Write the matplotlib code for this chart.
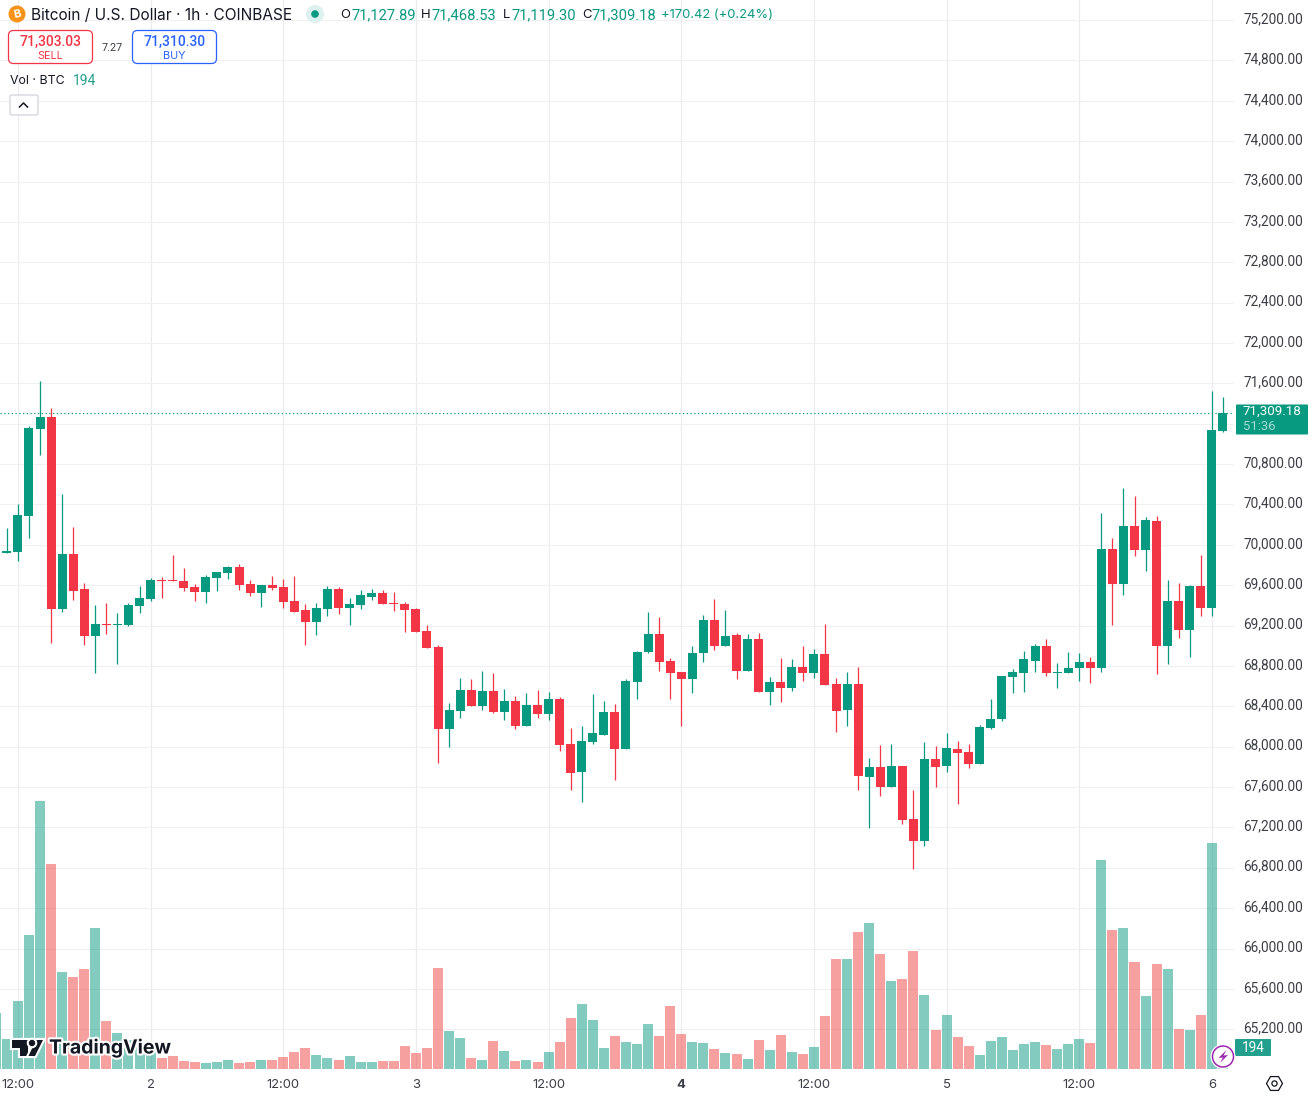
import matplotlib
matplotlib.use("Agg")
import matplotlib.pyplot as plt
import matplotlib.patheffects as pe
from matplotlib.colors import to_rgba
from matplotlib.patches import Circle, FancyBboxPatch, Polygon, RegularPolygon
from matplotlib.transforms import ScaledTranslation

GREEN = "#089981"
RED = "#F23645"
BLUE = "#2962FF"
DARK = "#131722"
GRID = "#F0F0F2"
NUM_FONT = ["Roboto", "DejaVu Sans"]

# hourly candles, first one is the hour before the 12:00 tick
opens = [69919, 69929, 70285, 71147, 71266, 69364, 69909, 69562, 69096, 69215, 69205, 69205, 69393, 69463, 69651,
         69651, 69641, 69582, 69532, 69671, 69721, 69780, 69611, 69522, 69602, 69582, 69443, 69354, 69235, 69364,
         69562, 69374, 69403, 69483, 69522, 69423, 69413, 69364, 69146, 68987, 68175, 68353, 68561, 68403, 68551,
         68343, 68452, 68204, 68412, 68323, 68472, 68026, 67749, 68046, 68115, 68343, 67976, 68640, 68938, 69116,
         68848, 68739, 68670, 68928, 69255, 68997, 69106, 68749, 69066, 68541, 68640, 68581, 68789, 68730, 68918,
         68621, 68363, 68621, 67699, 67798, 67600, 67808, 67283, 67065, 67877, 67808, 67976, 67947, 67828, 68185,
         68274, 68690, 68730, 68848, 68997, 68730, 68730, 68779, 68839, 68779, 69958, 69611, 70186, 69948, 70236,
         68997, 69443, 69156, 69592, 69374, 71127.89]
highs = [70166, 70404, 71177, 71623, 71355, 70503, 70176, 69621, 69403, 69423, 69324, 69423, 69592, 69671, 69681,
         69899, 69770, 69611, 69701, 69730, 69790, 69810, 69651, 69602, 69691, 69661, 69691, 69413, 69423, 69592,
         69582, 69473, 69552, 69562, 69552, 69532, 69433, 69374, 69205, 69007, 68432, 68680, 68670, 68749, 68730,
         68571, 68502, 68531, 68561, 68541, 68492, 68185, 68204, 68521, 68452, 68422, 68670, 68948, 69334, 69284,
         68878, 68739, 68997, 69304, 69463, 69354, 69126, 69116, 69126, 68690, 68878, 68868, 68997, 68967, 69215,
         68680, 68739, 68789, 67887, 68016, 68026, 67808, 67570, 68046, 68006, 68135, 68056, 68026, 68214, 68472,
         68700, 68769, 68948, 69017, 69066, 68829, 68938, 68928, 68888, 70315, 70067, 70563, 70483, 70275, 70285,
         69651, 69621, 69602, 69899, 71524, 71468.53]
lows = [69919, 69839, 70067, 70890, 69027, 69334, 69453, 69007, 68730, 69116, 68819, 69195, 69324, 69443, 69473,
        69641, 69542, 69443, 69423, 69542, 69661, 69552, 69493, 69384, 69552, 69374, 69334, 69007, 69106, 69294,
        69314, 69205, 69364, 69453, 69413, 69344, 69136, 69136, 68977, 67838, 67996, 68284, 68403, 68363, 68333,
        68264, 68175, 68204, 68284, 68264, 67957, 67570, 67451, 68026, 68115, 67669, 67976, 68472, 68928, 68749,
        68472, 68204, 68531, 68839, 68957, 68997, 68670, 68749, 68541, 68412, 68442, 68551, 68650, 68680, 68611,
        68145, 68204, 67570, 67194, 67511, 67600, 67233, 66787, 67015, 67600, 67749, 67431, 67788, 67828, 68175,
        68254, 68531, 68541, 68740, 68700, 68581, 68730, 68650, 68630, 68740, 69205, 69502, 69889, 69740, 68720,
        68819, 69076, 68888, 69294, 69294, 71119.30]
closes = [69938, 70295, 71157, 71266, 69364, 69909, 69542, 69096, 69215, 69205, 69215, 69403, 69473, 69651, 69641,
          69641, 69572, 69532, 69681, 69730, 69780, 69602, 69522, 69602, 69572, 69433, 69334, 69235, 69374, 69562,
          69374, 69413, 69502, 69522, 69413, 69413, 69354, 69136, 68977, 68175, 68363, 68561, 68403, 68551, 68343,
          68452, 68204, 68412, 68323, 68472, 68016, 67739, 68056, 68135, 68343, 67976, 68650, 68938, 69116, 68839,
          68730, 68670, 68928, 69255, 68997, 69096, 68749, 69066, 68541, 68640, 68581, 68789, 68730, 68918, 68611,
          68353, 68621, 67709, 67798, 67600, 67808, 67273, 67065, 67877, 67798, 67986, 67937, 67828, 68194, 68274,
          68700, 68740, 68868, 68997, 68730, 68740, 68779, 68839, 68779, 69958, 69611, 70186, 69948, 70246, 68997,
          69443, 69156, 69592, 69374, 71137, 71309.18]

# volume starts one hour earlier than the candles (only half a bar is visible there)
volumes = [501, 267, 609, 1203, 2409, 1842, 870, 825, 897, 1266, 429, 321, 260, 240, 210, 96,
           114, 69, 60, 51, 60, 78, 51, 60, 78, 78, 105, 150, 186, 123, 96,
           78, 114, 60, 60, 69, 69, 204, 141, 186, 909, 342, 279, 99, 81, 252,
           162, 72, 81, 63, 153, 243, 459, 585, 441, 189, 297, 243, 225, 405, 297,
           567, 315, 243, 234, 180, 144, 135, 90, 261, 171, 306, 153, 135, 198, 477,
           990, 990, 1233, 1314, 1035, 792, 810, 1062, 666, 351, 486, 288, 207, 126, 252,
           288, 171, 225, 243, 216, 180, 225, 270, 234, 1881, 1251, 1269, 963, 657, 945,
           900, 360, 351, 486, 2034, 194]
first_volume_up = True

tick_labels = ["12:00", "2", "12:00", "3", "12:00", "4", "12:00", "5", "12:00", "6"]
price_ticks = list(range(65200, 75201, 400))

plt.rcParams["font.family"] = ["Inter", "DejaVu Sans"]

fig = plt.figure(figsize=(13.13, 10.96), dpi=100)
ax = fig.add_axes([0, 27 / 1096, 1234 / 1313, 1069 / 1096])
ax_vol = ax.twinx()
ax.set_zorder(1)
ax_vol.set_zorder(2)
ax_vol.patch.set_visible(False)

xs = list(range(-1, 110))
colors = [GREEN if c >= o else RED for o, c in zip(opens, closes)]

# candles
ax.vlines(xs, lows, highs, colors=colors, linewidth=0.9, zorder=3)
ax.bar(xs, [abs(c - o) for o, c in zip(opens, closes)], bottom=[min(o, c) for o, c in zip(opens, closes)],
       width=0.814, color=colors, linewidth=0, zorder=4)

# volume
vol_xs = list(range(-2, 110))
vol_up = [first_volume_up] + [c >= o for o, c in zip(opens, closes)]
vol_colors = [to_rgba(GREEN, 0.5) if up else to_rgba("#EF5350", 0.55) for up in vol_up]
ax_vol.bar(vol_xs, volumes, width=0.905, color=vol_colors, linewidth=0)
ax_vol.set_ylim(0, 9621)
ax_vol.set_yticks([])

ax.axhline(closes[-1], color=GREEN, linewidth=0.9, linestyle=(0, (1, 2)), zorder=2)

ax.set_xlim(-1.62, 110.0)
ax.set_ylim(64806, 75399)
ax.yaxis.tick_right()
ax.set_yticks(price_ticks)
ax.set_yticklabels([f"{p:,.2f}" for p in price_ticks], fontsize=9.8, color="#3B3E46", family=NUM_FONT)
ax.set_xticks(list(range(0, 109, 12)))
ax.set_xticklabels(tick_labels, fontsize=9.4, color="#3B3E46")
ax.get_xticklabels()[5].set_fontweight("bold")
ax.tick_params(axis="both", length=0)
ax.tick_params(axis="x", pad=7.2)
ax.tick_params(axis="y", pad=6.5)
ax.grid(True, color=GRID, linewidth=0.8, zorder=0)
ax.xaxis.grid(True, color="#EBEBEE")
ax.set_axisbelow(True)
for t in ax.get_yticklabels():
    t.set_transform(t.get_transform() + ScaledTranslation(0, 2.5 / 100, fig.dpi_scale_trans))
for a in (ax, ax_vol):
    for s in a.spines.values():
        s.set_visible(False)

# everything else sits on an overlay in pixel coordinates
ov = fig.add_axes([0, 0, 1, 1], zorder=5)
ov.set_xlim(0, 1313)
ov.set_ylim(1096, 0)
ov.axis("off")


def label(x, y, s, size=9.4, color=DARK, ha="left", **kw):
    return ov.text(x, y, s, fontsize=size, color=color, ha=ha, va="center", **kw)


# header
ov.add_patch(Circle((17, 14), 8.5, color="#F7931A", linewidth=0))
label(17, 14.5, "B", size=8, color="white", ha="center", fontweight="bold", rotation=12)
label(31, 15, "Bitcoin / U.S. Dollar · 1h · COINBASE", size=11.1)
ov.add_patch(Circle((315, 14), 9, color="#DDF1EE", linewidth=0))
ov.add_patch(Circle((315, 14), 3.8, color=GREEN, linewidth=0))
for x, s in [(340, "O"), (421, "H"), (503, "L"), (582, "C")]:
    label(x, 15, s, size=9.4)
for x, s in [(351, "71,127.89"), (432, "71,468.53"), (511, "71,119.30"), (591, "71,309.18")]:
    label(x, 15, s, size=10.6, color=GREEN, family=NUM_FONT)
label(661, 15, "+170.42 (+0.24%)", size=9.4, color=GREEN)

# sell / buy boxes
for x0, col, price, word in [(8.5, RED, "71,303.03", "SELL"), (132.5, BLUE, "71,310.30", "BUY")]:
    ov.add_patch(FancyBboxPatch((x0 + 4, 34.5), 76, 25, boxstyle="round,pad=4,rounding_size=5",
                                facecolor="white", edgecolor=col, linewidth=0.9))
    label(x0 + 42, 41.5, price, size=10, color=col, ha="center", fontweight="medium", family=NUM_FONT)
    label(x0 + 42, 56, word, size=7.8, color=col, ha="center")
label(112, 48, "7.27", size=7.8, color="#3B3E46", ha="center", family=NUM_FONT)
label(10, 81.5, "Vol · BTC", size=8.9)
label(73, 81, "194", size=10, color="#22A08D", family=NUM_FONT)
ov.add_patch(FancyBboxPatch((12, 97), 24, 16, boxstyle="round,pad=2,rounding_size=2",
                            facecolor="white", edgecolor="#CBCCD6", linewidth=0.8))
ov.plot([19.5, 23.5, 27.5], [107, 103, 107], color=DARK, linewidth=1.1)

# last price and volume tags
ov.add_patch(FancyBboxPatch((1236, 404.5), 72, 30, boxstyle="round,pad=0,rounding_size=1", color=GREEN, linewidth=0))
label(1243, 411, f"{closes[-1]:,.2f}", size=9.6, color="white", family=NUM_FONT)
label(1243, 426.5, "51:36", size=9.4, color="#A5DBD2", family=NUM_FONT)
ov.add_patch(FancyBboxPatch((1235, 1039), 36, 17, boxstyle="round,pad=0,rounding_size=1", color="#22A08D", linewidth=0))
label(1253, 1047.5, str(volumes[-1]), size=9.8, color="white", ha="center", family=NUM_FONT)

# lightning button
ov.add_patch(Circle((1223, 1056.5), 12.5, color="white", linewidth=0))
ov.add_patch(Circle((1223, 1056.5), 10.5, facecolor="white", edgecolor="#9C27B0", linewidth=1.1))
ov.add_patch(Polygon([(1226.5, 1050), (1218.5, 1058), (1223, 1057.5), (1220, 1063), (1228, 1055), (1223.5, 1055.5)],
                     color="#9C27B0", linewidth=0))

# settings icon
ov.add_patch(RegularPolygon((1274.5, 1083.5), 6, radius=8, orientation=0.5236, fill=False, edgecolor=DARK, linewidth=0.9))
ov.add_patch(Circle((1274.5, 1083.5), 2.6, fill=False, edgecolor=DARK, linewidth=0.9))

# TradingView mark
halo = [pe.withStroke(linewidth=3, foreground="white")]
logo_t = Polygon([(12, 1040), (28, 1040), (28, 1056), (20, 1056), (20, 1047.5), (12, 1047.5)], color=DARK, linewidth=0)
logo_s = Polygon([(36, 1040), (43, 1040), (35, 1056), (28.5, 1056)], color=DARK, linewidth=0)
logo_d = Circle((32, 1043), 3.2, color=DARK, linewidth=0)
for p in (logo_t, logo_s, logo_d):
    p.set_path_effects(halo)
    ov.add_patch(p)
label(49, 1048, "TradingView", size=14, fontweight="bold", path_effects=halo)

fig.savefig("out.png", dpi=100)
